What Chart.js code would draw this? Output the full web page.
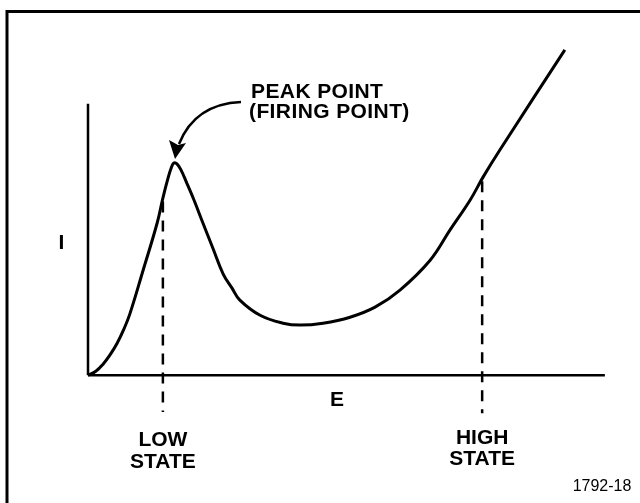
<!DOCTYPE html>
<html>
<head>
<meta charset="utf-8">
<script src="https://cdn.jsdelivr.net/npm/chart.js@4"></script>
<style>
  html, body { margin: 0; padding: 0; background: #fff; }
  #wrap { width: 640px; height: 503px; }
</style>
</head>
<body>
<div id="wrap"><canvas id="curveChart" width="640" height="503"></canvas></div>
<script>
// I-E characteristic (switching curve)
const curveE = [0, 1.5, 2.9, 4.2, 5.6, 6.9, 8.1, 10.6, 13.3, 14.4, 15.4, 16.0, 16.5, 17.1, 17.9, 19.0, 20.4, 22.1, 24.0, 26.0, 27.7, 29.2, 33.1, 37.5, 40.8, 45.2, 50.4, 55.2, 60.0, 65.8, 69.6, 73.5, 76.0, 79.2, 91.7];
const curveI = [0, 1.5, 4.1, 7.4, 11.8, 17.0, 22.9, 38.7, 56.1, 65.3, 72.7, 76.4, 78.2, 77.9, 75.6, 70.8, 64.5, 56.1, 46.9, 37.3, 32.1, 27.7, 22.1, 19.2, 18.5, 19.2, 21.4, 25.1, 31.4, 42.4, 53.5, 64.6, 73.1, 83.0, 119.9];

// dashed state markers
const lowStateE = [14.4, 14.4];
const lowStateI = [64.0, -13.5];
const highStateE = [75.8, 75.8];
const highStateI = [71.5, -14];

// axis lines
const xAxisE = [0, 99.4];
const xAxisI = [0, 0];
const yAxisE = [0, 0];
const yAxisI = [0, 100];

const toPts = (xs, ys) => xs.map((x, i) => ({ x: x, y: ys[i] }));

// text + arrow + frame drawn after the datasets
const labelsPlugin = {
  id: "labels",
  afterDraw(chart) {
    const c = chart.ctx;
    const sx = chart.scales.x, sy = chart.scales.y;
    const px = (v) => sx.getPixelForValue(v);
    const py = (v) => sy.getPixelForValue(v);
    c.save();
    c.fillStyle = "#000";
    c.strokeStyle = "#000";

    // frame (top and left only)
    c.lineWidth = 3;
    c.beginPath();
    c.moveTo(640, 11.5);
    c.lineTo(7, 11.5);
    c.lineTo(7, 503);
    c.stroke();

    c.textBaseline = "middle";
    c.font = "bold 21px 'Liberation Sans', Arial, sans-serif";
    c.textAlign = "left";
    c.letterSpacing = "0.4px";
    c.fillText("PEAK POINT", 251, 92);
    c.fillText("(FIRING POINT)", 249, 112);
    c.letterSpacing = "0px";

    c.textAlign = "center";
    c.fillText("I", px(-5.1), py(48.5));
    c.fillText("E", px(47.9), 400);
    c.fillText("LOW", px(14.4), 440);
    c.fillText("STATE", px(14.4), 462);
    c.fillText("HIGH", px(75.8), 438);
    c.fillText("STATE", px(75.8), 459);

    c.font = "16px 'Liberation Sans', Arial, sans-serif";
    c.fillText("1792-18", 602, 487);

    // curved arrow to the peak
    c.lineWidth = 2.5;
    c.beginPath();
    c.moveTo(241, 102);
    c.quadraticCurveTo(195, 104, 179, 144);
    c.stroke();
    c.beginPath();
    c.moveTo(175, 159);
    c.lineTo(169, 140);
    c.lineTo(178, 145);
    c.lineTo(186, 143);
    c.closePath();
    c.fill();
    c.restore();
  },
};

const lineSet = (label, xs, ys, extra) => Object.assign({
  label: label,
  data: toPts(xs, ys),
  showLine: true,
  borderColor: "#000",
  borderWidth: 2.5,
  pointRadius: 0,
  clip: false,
}, extra);

const ctx = document.getElementById("curveChart").getContext("2d");
const curveChart = new Chart(ctx, {
  type: "scatter",
  data: {
    datasets: [
      lineSet("I(E)", curveE, curveI, { borderWidth: 3, tension: 0.4 }),
      lineSet("low state", lowStateE, lowStateI, { borderDash: [11, 8] }),
      lineSet("high state", highStateE, highStateI, { borderDash: [11, 8] }),
      lineSet("x axis", xAxisE, xAxisI),
      lineSet("y axis", yAxisE, yAxisI),
    ],
  },
  options: {
    responsive: false,
    animation: false,
    layout: { padding: { left: 88, right: 32, top: 36, bottom: 87 } },
    plugins: {
      legend: { display: false },
      tooltip: { enabled: false },
    },
    scales: {
      x: { type: "linear", min: 0, max: 100, display: false },
      y: { type: "linear", min: -15, max: 125, display: false },
    },
  },
  plugins: [labelsPlugin],
});
</script>
</body>
</html>
